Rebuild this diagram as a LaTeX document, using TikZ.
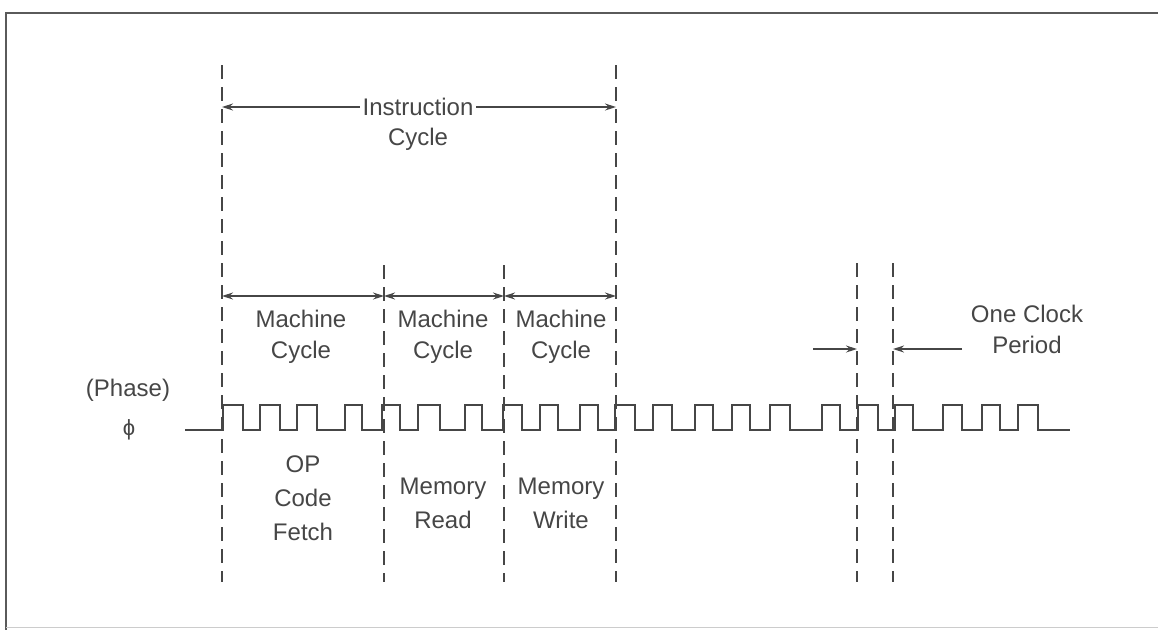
\documentclass[tikz,border=0pt]{standalone}
\usepackage{fontspec}
\setmainfont{Liberation Sans}
\usetikzlibrary{arrows.meta}
\definecolor{ink}{RGB}{70,70,70}
\definecolor{frame}{RGB}{90,90,90}
\begin{document}
\begin{tikzpicture}[x=1pt,y=-1pt,
  lbl/.style={text=ink,font=\fontsize{24}{31}\selectfont,align=center,inner sep=1pt},
  lbltall/.style={text=ink,font=\fontsize{24}{34}\selectfont,align=center,inner sep=1pt},
  dashline/.style={draw=ink,line width=1.3pt,dash pattern=on 14pt off 8pt},
  dim/.style={draw=ink,line width=1.3pt,{Stealth[length=11pt,width=7pt]}-{Stealth[length=11pt,width=7pt]}},
  dimr/.style={draw=ink,line width=1.3pt,-{Stealth[length=11pt,width=7pt]}},
  wave/.style={draw=ink,line width=1.8pt,line join=miter}]
\useasboundingbox (0,0) rectangle (1158,630);
% frame
\draw[frame,line width=2.5pt] (1158,13) -- (6,13) -- (6,630);
\draw[gray!40,line width=1pt] (6,627) -- (1158,627);
% dashed vertical coordinates
\coordinate (d1t) at (222,65);  \coordinate (d1b) at (222,582);
\coordinate (d2t) at (384,265); \coordinate (d2b) at (384,582);
\coordinate (d3t) at (504,265); \coordinate (d3b) at (504,582);
\coordinate (d4t) at (616,65);  \coordinate (d4b) at (616,582);
\coordinate (d5t) at (857,263); \coordinate (d5b) at (857,582);
\coordinate (d6t) at (893,263); \coordinate (d6b) at (893,582);
\foreach \i in {1,...,6} \draw[dashline] (d\i t) -- (d\i b);
% instruction cycle
\coordinate (ia) at (222,107); \coordinate (ib) at (616,107);
\draw[dim] (ia) -- (ib);
\node[lbl,fill=white,inner xsep=3pt] (ic1) at (418,107) {Instruction};
\node[lbl] (ic2) at (418,139) {Cycle};
% machine cycles
\coordinate (m1) at (222,296); \coordinate (m2) at (384,296);
\coordinate (m3) at (504,296); \coordinate (m4) at (616,296);
\draw[dim] (m1) -- (m2);
\draw[dim] (m2) -- (m3);
\draw[dim] (m3) -- (m4);
\node[lbl] (mc1) at (301,337) {Machine\\Cycle};
\node[lbl] (mc2) at (443,337) {Machine\\Cycle};
\node[lbl] (mc3) at (561,337) {Machine\\Cycle};
% phase label
\node[lbl] (ph) at (128,390) {(Phase)};
\node[text=ink,inner sep=0pt] (phi) at (129,430) {\fontsize{22}{22}\selectfont ϕ};
% waveform
\draw[wave] (185,430)
  \foreach \r/\f in {223/243,260/280,297/317,345/362,382/400,418/440,465/482,503/522,540/558,580/598,615/635,653/672,695/713,732/750,770/790,822/840,858/878,895/913,943/962,982/1000,1018/1038}
  { -- (\r,430) -- (\r,405) -- (\f,405) -- (\f,430) } -- (1070,430);
% bottom labels
\node[lbltall] (op) at (303,498) {OP\\Code\\Fetch};
\node[lbltall] (mr) at (443,503) {Memory\\Read};
\node[lbltall] (mw) at (561,503) {Memory\\Write};
% one clock period
\coordinate (pl) at (813,349); \coordinate (pla) at (857,349);
\coordinate (pr) at (962,349); \coordinate (pra) at (893,349);
\draw[dimr] (pl) -- (pla);
\draw[dimr] (pr) -- (pra);
\node[lbl] (ocp) at (1027,329) {One Clock\\Period};
\end{tikzpicture}
\end{document}
